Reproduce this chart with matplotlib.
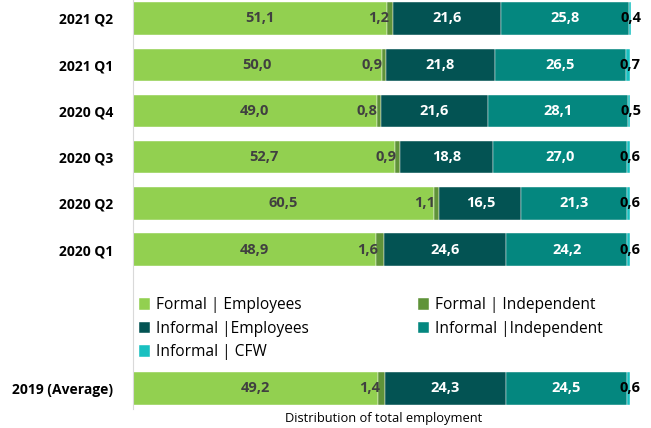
import matplotlib
matplotlib.use("Agg")
import matplotlib.pyplot as plt
import numpy as np

plt.rcParams['font.family'] = ['Open Sans', 'DejaVu Sans']

categories = ["2021 Q2", "2021 Q1", "2020 Q4", "2020 Q3", "2020 Q2", "2020 Q1", "2019 (Average)"]
positions = [0, 1, 2, 3, 4, 5, 8]
series_names = ["Formal | Employees", "Formal | Independent", "Informal |Employees",
                "Informal |Independent", "Informal | CFW"]
formal_emp = [51.1, 50.0, 49.0, 52.7, 60.5, 48.9, 49.2]
formal_ind = [1.2, 0.9, 0.8, 0.9, 1.1, 1.6, 1.4]
informal_emp = [21.6, 21.8, 21.6, 18.8, 16.5, 24.6, 24.3]
informal_ind = [25.8, 26.5, 28.1, 27.0, 21.3, 24.2, 24.5]
informal_cfw = [0.4, 0.7, 0.5, 0.6, 0.6, 0.6, 0.6]

series = [formal_emp, formal_ind, informal_emp, informal_ind, informal_cfw]
colors = ["#92D050", "#5F9339", "#035353", "#04877F", "#19C0C0"]
label_colors = ["#404040", "#404040", "white", "white", "black"]

fig = plt.figure(figsize=(6.51, 4.28), dpi=100)
ax = fig.add_axes([0.204, 0.044, 0.772, 0.956])

left = np.zeros(len(categories))
handles = []
for i, (vals, col, lc) in enumerate(zip(series, colors, label_colors)):
    vals = np.array(vals)
    b = ax.barh(positions, vals, left=left, height=0.7, color=col,
                edgecolor='white', linewidth=0.3, label=series_names[i])
    handles.append(b)
    for p, l, v in zip(positions, left, vals):
        txt = f"{v:.1f}".replace(".", ",")
        if i == 1:
            ax.text(l + v * 0.3, p, txt, ha='right', va='center', color=lc,
                    fontsize=10.5, fontweight='bold')
        elif i == 4:
            ax.text(l + v / 2 + 0.3, p, txt, ha='center', va='center', color=lc,
                    fontsize=10.5, fontweight='bold')
        else:
            ax.text(l + v / 2, p, txt, ha='center', va='center', color=lc,
                    fontsize=10.5, fontweight='bold')
    left = left + vals

ax.set_xlim(0, 101)
ax.set_ylim(8.45, -0.4)
ax.set_yticks(positions)
ax.set_yticklabels(categories, fontsize=10, fontweight='bold')
ax.tick_params(axis='y', length=0, pad=14)
ax.set_xticks([])
ax.set_xlabel("Distribution of total employment", fontsize=9.3, labelpad=2)
for s in ['top', 'right', 'bottom']:
    ax.spines[s].set_visible(False)
ax.spines['left'].set_color('#D9D9D9')

order = [0, 2, 4, 1, 3]
fig.legend([handles[k] for k in order], [series_names[k] for k in order],
           loc='upper left', bbox_to_anchor=(0.213, 0.305), ncol=2,
           frameon=False, fontsize=11.2, handlelength=0.75, handleheight=0.75,
           handletextpad=0.35, columnspacing=7.0, labelspacing=0.48,
           borderaxespad=0, borderpad=0)

fig.savefig("out.png", dpi=100)
